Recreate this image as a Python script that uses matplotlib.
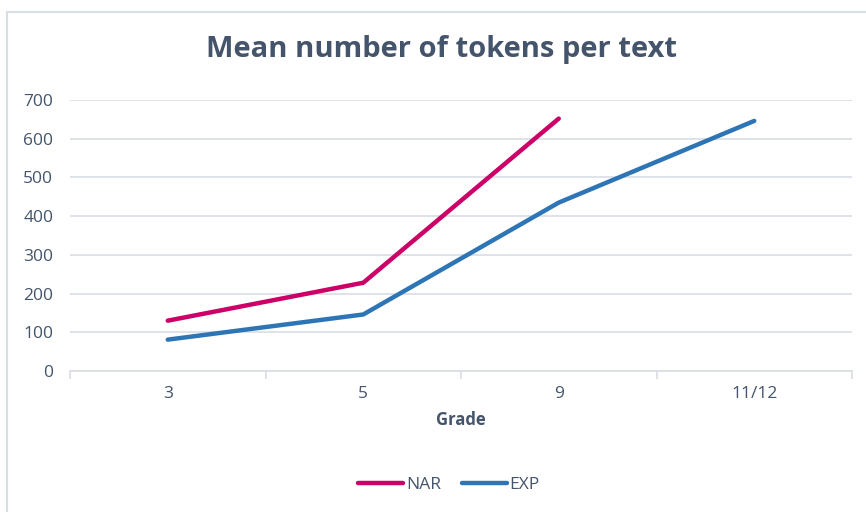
import matplotlib
matplotlib.use("Agg")
import numpy as np
import matplotlib.pyplot as plt
from matplotlib.patches import Rectangle

# data
grades = ["3", "5", "9", "11/12"]
nar = [130, 228, 652]
exp = [81, 146, 435, 646]

text_col = "#44546A"
grid_col = "#D9DDE4"

plt.rcParams["font.family"] = ["Open Sans", "DejaVu Sans"]

fig = plt.figure(figsize=(8.66, 5.12), dpi=100)
ax = fig.add_axes([70 / 866, 1 - 371 / 512, 782 / 866, 271 / 512])

x = np.arange(len(grades))
ax.plot(x[:len(nar)], nar, color="#CC0066", lw=3.2, label="NAR", solid_capstyle="round")
ax.plot(x, exp, color="#2E75B6", lw=3.2, label="EXP", solid_capstyle="round")

ax.set_xlim(-0.5, len(grades) - 0.5)
ax.set_ylim(0, 700)
ax.set_yticks(range(0, 701, 100))
ax.set_xticks(x)
ax.set_xticklabels(grades)
ax.set_xticks(np.arange(-0.5, len(grades), 1), minor=True)

ax.grid(axis="y", color=grid_col, lw=1.2)
ax.set_axisbelow(True)
for s in ["top", "right", "left"]:
    ax.spines[s].set_visible(False)
ax.spines["bottom"].set_color(grid_col)
ax.spines["bottom"].set_linewidth(1.2)

ax.tick_params(axis="y", length=0, pad=12, labelsize=12.5, labelcolor=text_col)
ax.tick_params(axis="x", which="major", length=0, pad=11, labelsize=12.5, labelcolor=text_col)
ax.tick_params(axis="x", which="minor", length=6, width=1.2, color=grid_col)

ax.set_xlabel("Grade", fontsize=12, fontweight="bold", color=text_col, labelpad=6)
fig.suptitle("Mean number of tokens per text", x=441 / 866, y=1 - 50 / 512, va="center",
             fontsize=21, fontweight="bold", color=text_col)

leg = fig.legend(loc="center", bbox_to_anchor=(449 / 866, 1 - 485 / 512), ncol=2,
                 frameon=False, fontsize=12.5, handlelength=2.6, handletextpad=0.15,
                 columnspacing=1.2)
for t in leg.get_texts():
    t.set_color(text_col)

fig.patches.append(Rectangle((7 / 866, -0.1), 1.0, 1 - 12 / 512 + 0.1, transform=fig.transFigure,
                             fill=False, edgecolor="#D9DDE4", lw=1.5))

fig.savefig("out.png", dpi=100)
